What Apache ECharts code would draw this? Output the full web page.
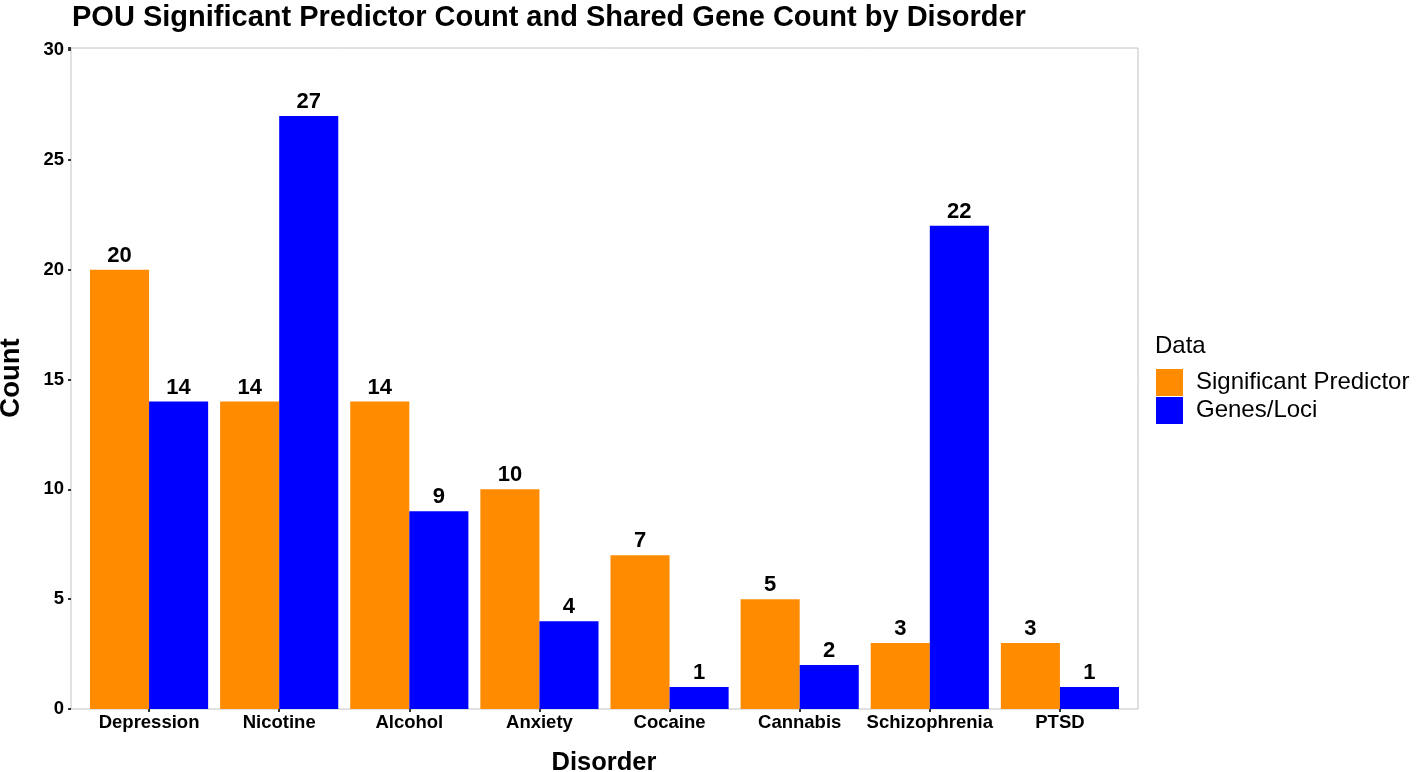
<!DOCTYPE html>
<html>
<head>
<meta charset="utf-8">
<script src="https://cdn.jsdelivr.net/npm/echarts@6/dist/echarts.min.js"></script>
<style>
html,body{margin:0;padding:0;background:#fff;}
#chart{width:1420px;height:772px;}
</style>
</head>
<body>
<div id="chart"></div>
<script>
const categories = ["Depression","Nicotine","Alcohol","Anxiety","Cocaine","Cannabis","Schizophrenia","PTSD"];
const significantPredictor = [20,14,14,10,7,5,3,3];
const genesLoci = [14,27,9,4,1,2,22,1];
const seriesNames = ["Significant Predictor","Genes/Loci"];
const yTicks = [0,5,10,15,20,25,30];

const FONT = "Liberation Sans, Arial, Helvetica, sans-serif";
const chart = echarts.init(document.getElementById('chart'), null, {renderer:'canvas'});
const YMAX = 30.09;
const option = {
  animation:false,
  backgroundColor:'#ffffff',
  legend:{
    orient:'vertical',
    left:1156, top:369, padding:0,
    itemWidth:27, itemHeight:27, itemGap:1,
    icon:'rect',
    data:seriesNames,
    textStyle:{fontFamily:FONT,fontSize:24,color:'#000',padding:[0,0,0,8]}
  },
  graphic:[
    {type:'text', x:72, y:18, style:{text:"POU Significant Predictor Count and Shared Gene Count by Disorder", font:'bold 29px '+FONT, fill:'#000', align:'left', verticalAlign:'middle'}},
    {type:'text', x:1155, y:346, style:{text:'Data', font:'24px '+FONT, fill:'#000', align:'left', verticalAlign:'middle'}},
    {type:'text', x:11, y:378, rotation:Math.PI/2, style:{text:'Count', font:'bold 27.5px '+FONT, fill:'#000', align:'center', verticalAlign:'middle'}},
    {type:'text', x:604, y:763, style:{text:'Disorder', font:'bold 25.5px '+FONT, fill:'#000', align:'center', verticalAlign:'middle'}}
  ],
  grid:[
    {left:71, top:48, width:1067, height:661, show:true, borderColor:'#c2c2c2', borderWidth:1, backgroundColor:'transparent', containLabel:false, outerBoundsMode:'none'},
    {left:84, top:48, width:1041, height:661, containLabel:false, outerBoundsMode:'none'}
  ],
  xAxis:[
    {gridIndex:0, type:'value', min:0, max:1, show:false},
    {gridIndex:1, type:'category', data:categories,
     axisLine:{show:false},
     axisTick:{show:true, alignWithLabel:true, length:3, lineStyle:{color:'#333',width:2}},
     axisLabel:{fontFamily:FONT,fontSize:18.5,fontWeight:'bold',color:'#000',margin:4, interval:0},
     splitLine:{show:false}
    }
  ],
  yAxis:[
    {gridIndex:0, type:'value', min:0, max:YMAX, interval:5,
     axisLine:{show:false},
     axisTick:{show:true, length:3, lineStyle:{color:'#333',width:2}},
     axisLabel:{fontFamily:FONT,fontSize:18.5,fontWeight:'bold',color:'#000',margin:7,
       formatter:function(v){return yTicks.indexOf(v)>=0 ? String(v) : '';}},
     splitLine:{show:false}
    },
    {gridIndex:1, type:'value', min:0, max:YMAX, show:false}
  ],
  series:[
    {name:seriesNames[0], type:'bar', xAxisIndex:1, yAxisIndex:1, data:significantPredictor,
     barGap:'0%', barCategoryGap:'9.2%',
     itemStyle:{color:'#FF8C00'},
     label:{show:true, position:'top', distance:3, fontFamily:FONT, fontSize:22, fontWeight:'bold', color:'#000'}
    },
    {name:seriesNames[1], type:'bar', xAxisIndex:1, yAxisIndex:1, data:genesLoci,
     barGap:'0%', barCategoryGap:'9.2%',
     itemStyle:{color:'#0000FF'},
     label:{show:true, position:'top', distance:3, fontFamily:FONT, fontSize:22, fontWeight:'bold', color:'#000'}
    }
  ]
};
chart.setOption(option);
</script>
</body>
</html>
